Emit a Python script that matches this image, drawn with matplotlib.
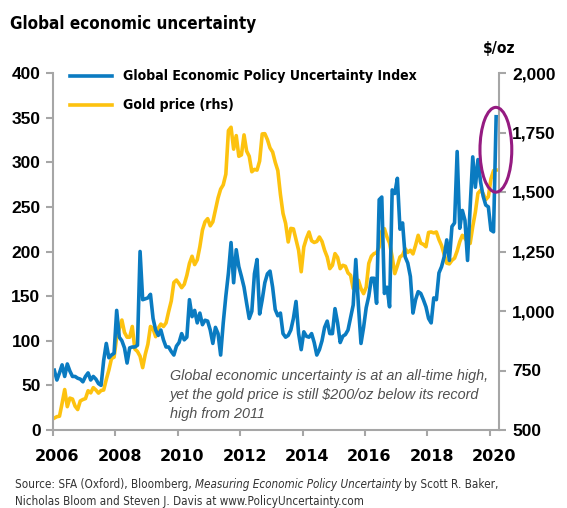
import numpy as np
import matplotlib
matplotlib.use('Agg')
import matplotlib.pyplot as plt
from matplotlib import font_manager
from matplotlib.lines import Line2D
from matplotlib.patches import Ellipse
from matplotlib.ticker import FuncFormatter
from matplotlib.transforms import ScaledTranslation

# Global Economic Policy Uncertainty Index, monthly from Jan 2006
epu_2006 = [67, 56, 64, 73, 60, 74, 66, 60, 60, 58, 57, 54]
epu_2007 = [60, 64, 56, 60, 57, 52, 50, 78, 97, 81, 84, 86]
epu_2008 = [134, 104, 100, 92, 75, 92, 93, 93, 95, 200, 146, 147]
epu_2009 = [148, 152, 125, 112, 106, 112, 101, 93, 93, 88, 84, 94]
epu_2010 = [98, 108, 101, 104, 146, 127, 134, 120, 131, 118, 123, 122]
epu_2011 = [112, 97, 115, 108, 84, 120, 150, 176, 210, 165, 202, 183]
epu_2012 = [172, 160, 142, 125, 133, 175, 191, 130, 146, 165, 175, 178]
epu_2013 = [160, 135, 128, 131, 108, 104, 106, 112, 125, 144, 108, 90]
epu_2014 = [110, 105, 104, 108, 98, 84, 90, 100, 115, 122, 108, 108]
epu_2015 = [136, 120, 98, 105, 107, 112, 126, 140, 191, 140, 97, 115]
epu_2016 = [137, 150, 170, 170, 142, 258, 261, 153, 160, 138, 269, 265]
epu_2017 = [282, 225, 232, 194, 187, 172, 131, 146, 155, 153, 146, 138]
epu_2018 = [125, 120, 148, 146, 176, 183, 194, 213, 190, 228, 232, 312]
epu_2019 = [226, 246, 235, 190, 250, 306, 272, 303, 278, 262, 252, 250]
epu_2020 = [224, 222, 351]

# Gold price, $/oz, monthly from Jan 2006
gold_2006 = [550, 556, 558, 612, 670, 598, 634, 630, 600, 586, 622, 628]
gold_2007 = [632, 665, 656, 678, 668, 655, 666, 668, 712, 752, 800, 806]
gold_2008 = [890, 925, 962, 910, 890, 890, 935, 840, 830, 810, 762, 818]
gold_2009 = [860, 935, 925, 892, 928, 945, 935, 950, 998, 1042, 1120, 1130]
gold_2010 = [1115, 1098, 1112, 1150, 1200, 1230, 1195, 1215, 1270, 1340, 1375, 1388]
gold_2011 = [1358, 1375, 1425, 1475, 1512, 1530, 1575, 1758, 1772, 1680, 1737, 1650]
gold_2012 = [1656, 1740, 1672, 1650, 1585, 1595, 1592, 1630, 1744, 1745, 1720, 1685]
gold_2013 = [1668, 1625, 1590, 1490, 1410, 1368, 1290, 1347, 1345, 1300, 1255, 1165]
gold_2014 = [1269, 1305, 1332, 1295, 1288, 1292, 1311, 1292, 1255, 1227, 1178, 1192]
gold_2015 = [1241, 1225, 1178, 1192, 1188, 1160, 1150, 1094, 1129, 1129, 1094, 1073]
gold_2016 = [1100, 1200, 1230, 1241, 1245, 1269, 1335, 1346, 1311, 1285, 1227, 1157]
gold_2017 = [1190, 1227, 1235, 1262, 1246, 1255, 1240, 1276, 1318, 1285, 1280, 1270]
gold_2018 = [1330, 1332, 1328, 1332, 1300, 1275, 1238, 1201, 1198, 1213, 1222, 1252]
gold_2019 = [1291, 1318, 1305, 1290, 1284, 1355, 1415, 1495, 1507, 1493, 1468, 1480]
gold_2020 = [1555, 1590, 1592]

x_ticks = [2006, 2008, 2010, 2012, 2014, 2016, 2018, 2020]
left_ticks = [0, 50, 100, 150, 200, 250, 300, 350, 400]
right_ticks = [500, 750, 1000, 1250, 1500, 1750, 2000]
labels = ['Global Economic Policy Uncertainty Index', 'Gold price (rhs)']

BLUE = '#0a7bc1'
GOLD = '#fdc20f'
PURPLE = '#951b81'
GRAY = '#a6a6a6'

# use a condensed face for titles and notes when one is installed
cond = font_manager.FontProperties(family='DejaVu Sans', stretch='condensed')
if 'Condensed' in font_manager.findfont(cond):
    NARROW = dict(family='DejaVu Sans', stretch='condensed')
else:
    NARROW = dict(family='Liberation Sans')

epu = np.array(epu_2006 + epu_2007 + epu_2008 + epu_2009 + epu_2010 + epu_2011 + epu_2012
               + epu_2013 + epu_2014 + epu_2015 + epu_2016 + epu_2017 + epu_2018 + epu_2019 + epu_2020)
gold = np.array(gold_2006 + gold_2007 + gold_2008 + gold_2009 + gold_2010 + gold_2011 + gold_2012
                + gold_2013 + gold_2014 + gold_2015 + gold_2016 + gold_2017 + gold_2018 + gold_2019 + gold_2020)
# mid-month positions in fractional years
t = 2006 + (np.arange(len(epu)) + 0.5) / 12

W, H = 567, 508
fig = plt.figure(figsize=(W / 100, H / 100), dpi=100)
renderer = fig.canvas.get_renderer()


def fit(txt, width_px):
    # scale a text so it spans the given width in pixels
    w = txt.get_window_extent(renderer).width
    txt.set_size(txt.get_size() * width_px / w)
    return txt


ax = fig.add_axes([53 / W, 1 - 430 / H, (499 - 53) / W, (430 - 73) / H])
ax2 = ax.twinx()

ax2.plot(t, gold, color=GOLD, lw=2.6, solid_joinstyle='round')
ax.plot(t, epu, color=BLUE, lw=2.6, solid_joinstyle='round')
# keep the uncertainty line above the gold line
ax.set_zorder(ax2.get_zorder() + 1)
ax.patch.set_visible(False)

ax.set_xlim(2006, 2020.3)
ax.set_ylim(0, 400)
ax2.set_ylim(500, 2000)
ax.set_xticks(x_ticks)
ax.set_yticks(left_ticks)
ax2.set_yticks(right_ticks)
ax2.yaxis.set_major_formatter(FuncFormatter(lambda v, p: f'{v:,.0f}'))

for a in (ax, ax2):
    a.spines['top'].set_visible(False)
    for s in a.spines.values():
        s.set_color(GRAY)
        s.set_linewidth(1.5)
ax.spines['right'].set_visible(False)
ax2.spines['left'].set_visible(False)
ax2.spines['bottom'].set_visible(False)

ax.tick_params(axis='y', direction='out', length=5, width=1.5, color=GRAY, pad=4)
ax2.tick_params(axis='y', direction='out', length=5, width=1.5, color=GRAY, pad=4.5)
ax.tick_params(axis='x', direction='out', length=4, width=1.5, color=GRAY, pad=10)
for lab in ax.get_yticklabels() + ax2.get_yticklabels():
    lab.set_family('Liberation Sans')
    lab.set_weight('bold')
    lab.set_size(12.5)
shift = ScaledTranslation(4.5 / 100, 0, fig.dpi_scale_trans)
for lab in ax.get_xticklabels():
    lab.set_family('DejaVu Sans')
    lab.set_weight('bold')
    lab.set_size(11.5)
    lab.set_transform(lab.get_transform() + shift)

# circle the latest spike
ax.add_patch(Ellipse((2020.2, 314), width=1.02, height=95, fill=False,
                     edgecolor=PURPLE, lw=2.2, clip_on=False, zorder=5))

note = fig.text(170 / W, 1 - 418 / H, 'Global economic uncertainty is at an all-time high,\n'
                'yet the gold price is still $200/oz below its record\nhigh from 2011',
                family='Liberation Sans', style='italic', size=10.4, color='#505050',
                va='baseline', linespacing=1.45, parse_math=False)

# legend drawn by hand
for k, (lab, col) in enumerate(zip(labels, [BLUE, GOLD])):
    y = 1 - (76 + 29 * k) / H
    fig.add_artist(Line2D([70 / W, 112 / W], [y, y], color=col, lw=2.6))
    txt = fig.text(123 / W, y, lab, weight='bold', size=13, va='center', **NARROW)
    if k == 0:
        fit(txt, 296)
        size_legend = txt.get_size()
    else:
        txt.set_size(size_legend)

title = fig.text(10 / W, 1 - 29 / H, 'Global economic uncertainty', weight='bold',
                 size=15.9, va='baseline', **NARROW)
fit(title, 248)
fig.text(483 / W, 1 - 53 / H, '$/oz', weight='bold', size=size_legend * 1.1,
         va='baseline', parse_math=False, **NARROW)

# source line with the book title in italics
pieces = [('Source: SFA (Oxford), Bloomberg,', 'normal'),
          ('Measuring Economic Policy Uncertainty', 'italic'),
          ('by Scott R. Baker,', 'normal')]
probe = fig.text(0, 0, ' '.join(p[0] for p in pieces), size=9.8, **NARROW)
fit(probe, 480)
src_size = probe.get_size()
probe.remove()
x = 15
for s, st in pieces:
    txt = fig.text(x / W, 1 - 488 / H, s, style=st, size=src_size, color='#333333',
                   va='baseline', **NARROW)
    x += txt.get_window_extent(renderer).width + src_size * 0.35
fig.text(15 / W, 1 - 505 / H, 'Nicholas Bloom and Steven J. Davis at www.PolicyUncertainty.com',
         size=src_size, color='#333333', va='baseline', **NARROW)

fig.savefig('out.png', dpi=100)
